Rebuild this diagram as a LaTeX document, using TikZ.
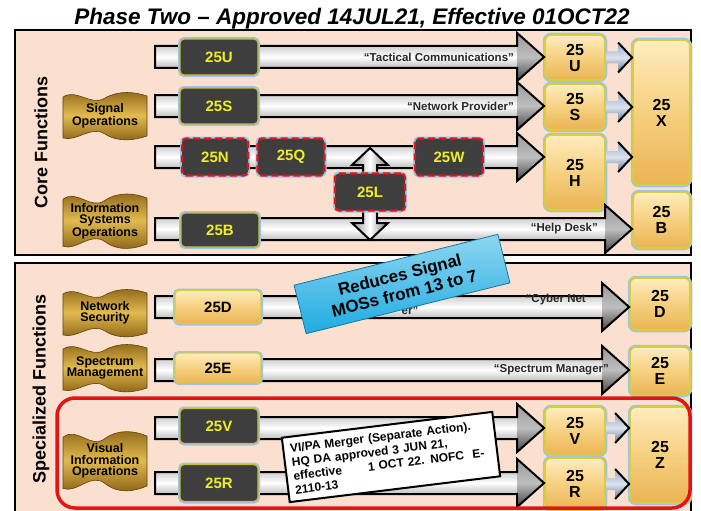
\documentclass[tikz,border=0pt]{standalone}
\usepackage{fontspec}
\setmainfont{Liberation Sans}
\usetikzlibrary{calc}
\definecolor{cPeach}{RGB}{251,224,208}
\definecolor{cCode}{RGB}{62,62,62}
\definecolor{tCode}{RGB}{238,238,40}
\definecolor{eCode}{RGB}{196,190,60}
\definecolor{cGlow}{RGB}{160,195,230}
\definecolor{cRed}{RGB}{228,20,20}
\definecolor{gLight}{RGB}{255,236,190}
\definecolor{gMid}{RGB}{246,208,128}
\definecolor{gDark}{RGB}{234,180,84}
\definecolor{eGold}{RGB}{214,206,60}
\definecolor{fDark}{RGB}{135,95,18}
\definecolor{fLight}{RGB}{226,186,80}
\definecolor{cPipe}{RGB}{150,150,150}
\definecolor{cHead}{RGB}{110,110,110}
\definecolor{cLink}{RGB}{120,145,185}
\definecolor{cCyan}{RGB}{30,172,226}
\definecolor{ink}{RGB}{40,40,40}
\newcommand{\fs}[2]{\fontsize{#1}{#2}\selectfont}
% pipe arrow from a start coordinate to the west side of a box
\newcommand{\pipe}[2]{%
  \path[top color=cPipe, bottom color=cPipe!75!black, middle color=white]
    let \p1=(#1), \p2=(#2) in
    (\x1,\y1+11pt) -- (\x2-27pt,\y1+11pt) -- (\x2-27pt,\y1+24pt) -- (\x2,\y1)
    -- (\x2-27pt,\y1-24pt) -- (\x2-27pt,\y1-11pt) -- (\x1,\y1-11pt) -- cycle;
  \path[top color=cHead!70, bottom color=cHead!60!black, middle color=cHead!45]
    let \p1=(#1), \p2=(#2) in
    (\x2-27pt,\y1+24pt) -- (\x2,\y1) -- (\x2-27pt,\y1-24pt) -- cycle;
  \draw[line width=2pt, line join=miter]
    let \p1=(#1), \p2=(#2) in
    (\x1,\y1+11pt) -- (\x2-27pt,\y1+11pt) -- (\x2-27pt,\y1+24pt) -- (\x2,\y1)
    -- (\x2-27pt,\y1-24pt) -- (\x2-27pt,\y1-11pt) -- (\x1,\y1-11pt) -- cycle;
}
% short link between two MOS boxes
\newcommand{\link}[2]{%
  \path[top color=cLink!80, bottom color=cLink!80!black, middle color=cLink!25]
    let \p1=(#1), \p2=(#2) in
    (\x1,\y1+6pt) -- (\x2-14pt,\y1+6pt) -- (\x2-14pt,\y1+15pt) -- (\x2,\y1)
    -- (\x2-14pt,\y1-15pt) -- (\x2-14pt,\y1-6pt) -- (\x1,\y1-6pt) -- cycle;
  \draw[line width=2pt, line join=miter]
    let \p1=(#1), \p2=(#2) in
    (\x2-14pt,\y1+15pt) -- (\x2,\y1) -- (\x2-14pt,\y1-15pt);
}
% gold waving flag with its text
\newcommand{\flag}[4]{%
  \begin{scope}[shift={#2}, yscale=#3]
    \path[draw=fDark!70!black, line width=0.6pt, top color=fDark, bottom color=fDark, middle color=fLight]
      (-42,-19) .. controls (-28,-28) and (-14,-9) .. (0,-18) .. controls (14,-26) and (30,-24) .. (42,-20)
      -- (42,20) .. controls (30,24) and (14,27) .. (0,18) .. controls (-14,9) and (-28,26) .. (-42,22) -- cycle;
  \end{scope}
  \node[flagtext] (#1) at #2 {#4};
}

\begin{document}
\begin{tikzpicture}[
  x=1pt, y=-1pt,
  panel/.style={draw=black, line width=2.6pt, fill=cPeach},
  side/.style={rotate=90, font=\bfseries\fs{18}{18}},
  codebox/.style={rounded corners=4pt, fill=cCode, draw=eCode, line width=1.3pt, text=tCode,
    font=\bfseries\fs{15}{15}, inner sep=0pt, minimum width=78pt, minimum height=36pt,
    preaction={draw=cGlow, line width=4pt, solid}},
  newcode/.style={codebox, draw=cRed, line width=2.2pt, dash pattern=on 7pt off 4pt},
  goldcode/.style={codebox, top color=gLight, bottom color=gDark, middle color=gMid, text=black, draw=eGold},
  mos/.style={rounded corners=6pt, top color=gLight, bottom color=gDark, middle color=gMid, draw=eGold,
    line width=1.8pt, align=center, font=\bfseries\fs{16}{16}, inner sep=0pt, minimum width=60pt,
    preaction={draw=cGlow, line width=4.5pt}},
  pipetext/.style={font=\bfseries\fs{11.5}{12}, text=ink, inner sep=0pt},
  flagtext/.style={font=\bfseries\fs{12.5}{11.5}, align=center, inner sep=0pt},
  note/.style={draw=black, line width=2pt, fill=white, align=left, font=\bfseries\fs{12}{14},
    text width=198pt, inner sep=7pt},
  reduce/.style={top color=cCyan!50!white, bottom color=cCyan, draw=cCyan!70!black, line width=0.8pt,
    align=center, font=\bfseries\fs{17}{19}, minimum width=210pt, minimum height=50pt, inner sep=0pt},
]
\clip (0,0) rectangle (701,511);
\fill[white] (0,0) rectangle (701,511);

% ---- title ----
\node[font=\bfseries\itshape\fs{22.5}{22}, anchor=base] (TITLE) at (352,25)
  {\underline{Phase Two – Approved 14JUL21, Effective 01OCT22}};

% ---- panels ----
\draw[panel] (15,30) rectangle (691,255);
\draw[panel] (15,263) rectangle (691,530);
\node[side] (CORE) at (41,142) {Core Functions};
\node[side] (SPEC) at (41,389) {Specialized Functions};

% ---- MOS boxes (right) ----
\node[mos, minimum height=45pt] (MU) at (575,57.5) {25\\U};
\node[mos, minimum height=46pt] (MS) at (575,107) {25\\S};
\node[mos, minimum height=75pt] (MH) at (575,172.5) {25\\H};
\node[mos, minimum width=57pt, minimum height=145pt] (MX) at (661.5,112.5) {25\\X};
\node[mos, minimum width=57pt, minimum height=56pt] (MB) at (661.5,220) {25\\B};
\node[mos, minimum height=52pt] (MD) at (660,304) {25\\D};
\node[mos, minimum height=48pt] (ME) at (660,371) {25\\E};
\node[mos, minimum height=48pt] (MV) at (575,431) {25\\V};
\node[mos, minimum height=52pt] (MR) at (575,484) {25\\R};
\node[mos, minimum height=96pt] (MZ) at (660,455) {25\\Z};

% ---- pipes ----
\coordinate (sU) at (155,57);
\coordinate (sS) at (155,106);
\coordinate (sH) at (155,157);
\coordinate (sB) at (155,229);
\coordinate (sD) at (155,307);
\coordinate (sE) at (155,370);
\coordinate (sV) at (155,428);
\coordinate (sR) at (155,483);
\pipe{sU}{MU.west}
\pipe{sS}{MS.west}
\pipe{sH}{MH.west}
\pipe{sB}{MB.west}
\pipe{sD}{MD.west}
\pipe{sE}{ME.west}
\pipe{sV}{MV.west}
\pipe{sR}{MR.west}
\node[pipetext, anchor=east] (LTAC) at ($(MU.west |- sU)+(-30,0)$) {“Tactical Communications”};
\node[pipetext, anchor=east] (LNET) at ($(MS.west |- sS)+(-30,0)$) {“Network Provider”};
\node[pipetext, anchor=east] (LHLP) at ($(MB.west |- sB)+(-34,0)$) {“Help Desk”};
\node[pipetext, anchor=east] (LCYB) at (586,300) {“Cyber Net};
\node[pipetext] (LCYB2) at (410,311) {er”};
\node[pipetext, anchor=east] (LSPM) at ($(ME.west |- sE)+(-20,0)$) {“Spectrum Manager”};

% ---- links into the merged MOS ----
\link{MU.east}{MX.west}
\link{MS.east}{MX.west}
\link{MH.east |- sH}{MX.west}
\link{MV.east |- sV}{MZ.west}
\link{MR.east}{MZ.west}

% ---- 25L double arrow ----
\coordinate (LT) at (370,148);
\coordinate (LB) at (370,240);
\path[left color=cPipe, right color=cPipe!80!black, middle color=white, draw=black, line width=2pt, line join=miter]
  let \p1=(LT), \p2=(LB) in
  (\x1,\y1) -- (\x1+18pt,\y1-17pt) -- (\x1+7pt,\y1-17pt) -- (\x1+7pt,\y2+17pt) -- (\x1+18pt,\y2+17pt)
  -- (\x1,\y2) -- (\x1-18pt,\y2+17pt) -- (\x1-7pt,\y2+17pt) -- (\x1-7pt,\y1-17pt) -- (\x1-18pt,\y1-17pt) -- cycle;

% ---- code boxes ----
\node[codebox] (CU) at (219,57) {25U};
\node[codebox] (CS) at (219,106) {25S};
\node[newcode, minimum width=66pt, minimum height=37pt] (CN) at (215,157) {25N};
\node[newcode, minimum width=67pt, minimum height=37pt] (CQ) at (291,157) {25Q};
\node[newcode, minimum width=68pt, minimum height=37pt] (CW) at (449,157) {25W};
\node[newcode, minimum width=70pt, minimum height=37pt] (CL) at (370,192) {25L};
\node[codebox, minimum height=34pt] (CB) at (220,230) {25B};
\node[goldcode, minimum width=86pt, minimum height=33pt] (CD) at (218,307) {25D};
\node[goldcode, minimum width=86pt, minimum height=30pt] (CE) at (218,368) {25E};
\node[codebox, minimum height=35pt] (CV) at (219,426) {25V};
\node[codebox, minimum height=37pt] (CR) at (219,483) {25R};

% ---- branch flags ----
\flag{FSIG}{(105,116)}{1}{Signal\\Operations}
\flag{FINF}{(105,221)}{1.15}{Information\\Systems\\Operations}
\flag{FNET}{(105,313)}{1}{Network\\Security}
\flag{FSPC}{(105,368)}{1}{Spectrum\\Management}
\flag{FVIS}{(105,461)}{1.25}{Visual\\Information\\Operations}

% ---- VI/PA group ----
\draw[cRed, line width=3.5pt, rounded corners=18pt] (57,398) rectangle (690,508);
\node[note, rotate=7] (MERGE) at (391,457)
  {VI/PA Merger (Separate Action).\\HQ DA approved 3 JUN 21,\\effective\hspace{2.2em}1 OCT 22. NOFC\hspace{0.7em}E-\\2110-13};

% ---- callout ----
\node[reduce, rotate=14] (REDUCE) at (402,284) {Reduces Signal\\MOSs from 13 to 7};

\end{tikzpicture}
\end{document}
